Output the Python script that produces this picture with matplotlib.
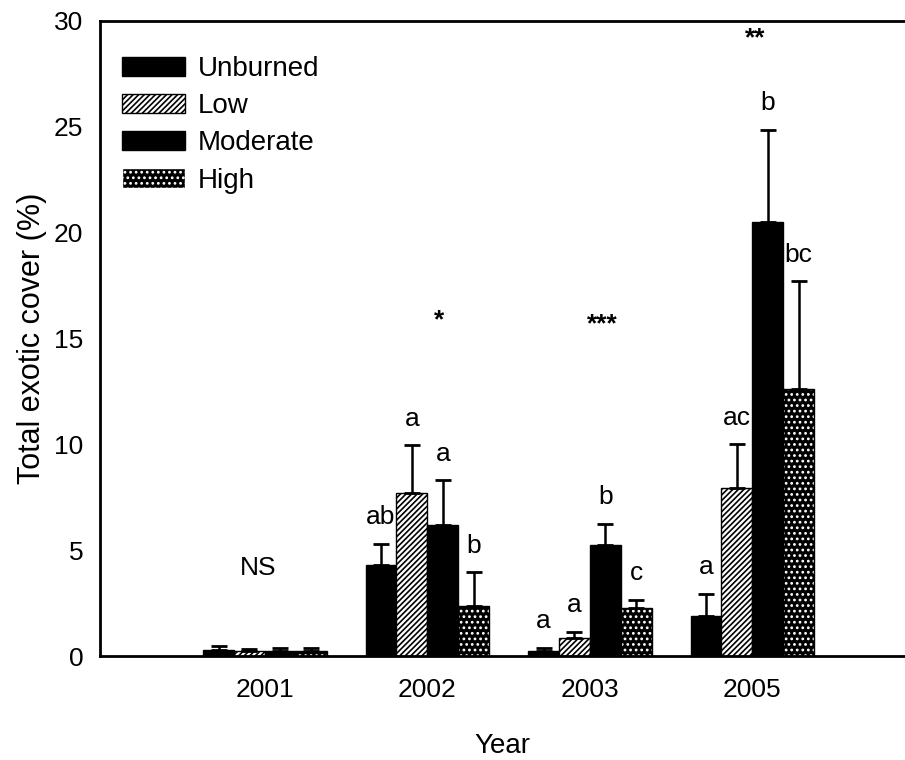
import numpy as np
import matplotlib
matplotlib.use("Agg")
import matplotlib.pyplot as plt
from matplotlib.patches import Patch

plt.rcParams['font.family'] = ['Liberation Sans', 'DejaVu Sans']
plt.rcParams['hatch.linewidth'] = 1.2

# datos
years = ['2001', '2002', '2003', '2005']
treatments = ['Unburned', 'Low', 'Moderate', 'High']
unburned = [0.28, 4.3, 0.22, 1.9]
low = [0.25, 7.7, 0.85, 7.95]
moderate = [0.25, 6.2, 5.25, 20.5]
high = [0.25, 2.35, 2.25, 12.6]
unburned_se = [0.2, 1.0, 0.15, 1.05]
low_se = [0.1, 2.25, 0.3, 2.05]
moderate_se = [0.15, 2.1, 1.0, 4.35]
high_se = [0.15, 1.6, 0.4, 5.1]
letters = [['', 'ab', 'a', 'a'],
           ['', 'a', 'a', 'ac'],
           ['', 'a', 'b', 'b'],
           ['', 'b', 'c', 'bc']]
signif = ['NS', '*', '***', '**']

means = [unburned, low, moderate, high]
errs = [unburned_se, low_se, moderate_se, high_se]

fig = plt.figure(figsize=(9.05, 7.6), dpi=100)
ax = fig.add_axes([0.1105, 0.1368, 0.8895, 0.8356])

x = np.arange(len(years))
w = 0.19
for i in range(4):
    pos = x + (i - 1.5) * w
    if treatments[i] == 'High':
        # fondo negro con puntos blancos
        ax.bar(pos, means[i], w, color='black', edgecolor='white', hatch='...',
               linewidth=0, zorder=2)
        ax.bar(pos, means[i], w, fill=False, edgecolor='black', linewidth=1, zorder=2)
    elif treatments[i] == 'Low':
        ax.bar(pos, means[i], w, color='white', edgecolor='black', hatch='//////',
               linewidth=1, zorder=2)
    else:
        ax.bar(pos, means[i], w, color='black', edgecolor='black', linewidth=1, zorder=2)
    ax.errorbar(pos, means[i], yerr=[np.zeros(4), errs[i]], fmt='none', ecolor='black',
                elinewidth=1.8, capsize=6, capthick=2, zorder=3)
    for j in range(4):
        if letters[i][j]:
            ax.text(pos[j], means[i][j] + errs[i][j] + 0.7, letters[i][j], ha='center',
                    va='bottom', fontsize=19)

# asteriscos / NS
sig_x = [-0.04, 1.07, 2.08, 3.02]
sig_y = [3.6, 15.3, 15.1, 28.6]
for j in range(4):
    if signif[j] == 'NS':
        ax.text(sig_x[j], sig_y[j], signif[j], ha='center', va='bottom', fontsize=19)
    else:
        ax.text(sig_x[j], sig_y[j], signif[j], ha='center', va='bottom', fontsize=19,
                fontweight='bold')

# leyenda con parches propios
handles = [Patch(facecolor='black', edgecolor='black'),
           Patch(facecolor='white', edgecolor='black', hatch='//////'),
           Patch(facecolor='black', edgecolor='black'),
           Patch(facecolor='black', edgecolor='white', hatch='...')]

ax.set_xlim(-1.015, 3.94)
ax.set_ylim(0, 30)
ax.set_xticks(x)
ax.set_xticklabels(years)
ax.set_yticks(range(0, 31, 5))
ax.tick_params(axis='both', length=0, labelsize=19)
ax.tick_params(axis='x', pad=16)
ax.tick_params(axis='y', pad=12)
ax.spines['right'].set_visible(False)
for s in ['left', 'top', 'bottom']:
    ax.spines[s].set_linewidth(2)

ax.set_xlabel('Year', fontsize=20, labelpad=22)
ax.set_ylabel('Total exotic cover (%)', fontsize=22, labelpad=5)

ax.legend(handles, treatments, loc='upper left', bbox_to_anchor=(0.013, 0.962), frameon=False,
          fontsize=20, handlelength=2.3, handleheight=0.7, handletextpad=0.45,
          labelspacing=0.4, borderaxespad=0)

plt.savefig('out.png', dpi=100)
